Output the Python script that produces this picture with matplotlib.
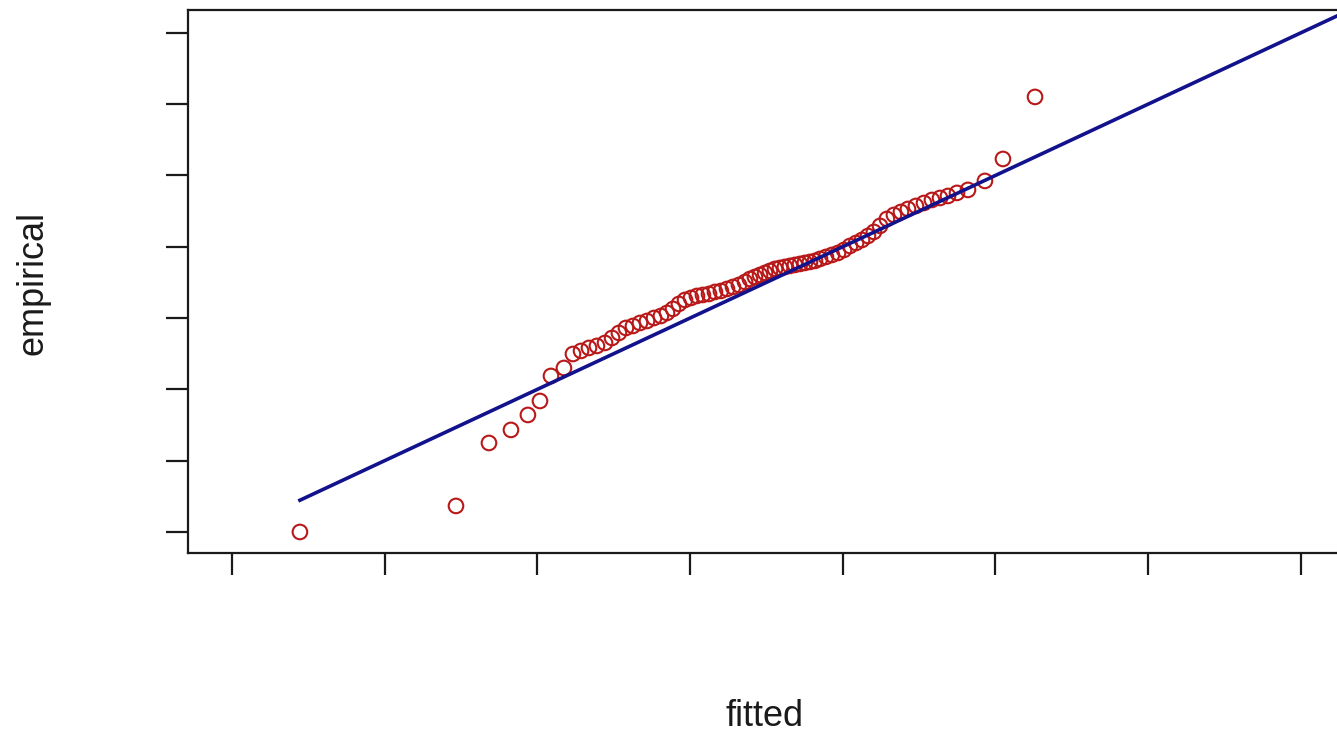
import matplotlib
matplotlib.use("Agg")
import matplotlib.pyplot as plt

plt.rcParams['font.family'] = ['Liberation Sans', 'DejaVu Sans']

# Q-Q comparison: fitted vs empirical quantiles
fitted = [0.445, 1.467, 1.683, 1.827, 1.938, 2.017, 2.089, 2.174, 2.233, 2.286,
          2.338, 2.390, 2.443, 2.489, 2.534, 2.580, 2.626, 2.672, 2.718, 2.764,
          2.809, 2.849, 2.888, 2.927, 2.967, 3.006, 3.045, 3.084, 3.124, 3.163,
          3.202, 3.242, 3.281, 3.320, 3.360, 3.392, 3.425, 3.458, 3.491, 3.523,
          3.556, 3.589, 3.621, 3.654, 3.687, 3.720, 3.752, 3.785, 3.818, 3.851,
          3.890, 3.929, 3.969, 4.008, 4.047, 4.087, 4.126, 4.165, 4.204, 4.244,
          4.289, 4.335, 4.381, 4.427, 4.479, 4.532, 4.584, 4.637, 4.689, 4.748,
          4.820, 4.931, 5.049, 5.259]
empirical = [0.000, 0.365, 1.248, 1.431, 1.641, 1.837, 2.188, 2.300, 2.496, 2.539,
             2.581, 2.609, 2.651, 2.721, 2.791, 2.861, 2.889, 2.931, 2.959, 3.001,
             3.029, 3.072, 3.128, 3.198, 3.254, 3.282, 3.310, 3.324, 3.338, 3.366,
             3.380, 3.408, 3.436, 3.464, 3.506, 3.548, 3.576, 3.604, 3.633, 3.661,
             3.689, 3.703, 3.717, 3.731, 3.745, 3.759, 3.773, 3.787, 3.801, 3.829,
             3.857, 3.885, 3.913, 3.955, 4.011, 4.053, 4.095, 4.151, 4.208, 4.292,
             4.390, 4.446, 4.488, 4.530, 4.572, 4.614, 4.656, 4.684, 4.712, 4.755,
             4.797, 4.923, 5.231, 6.101]

# reference line y = x
line_x = [0.445, 7.4]
line_y = [0.445, 7.4]

x_ticks = [0, 1, 2, 3, 4, 5, 6, 7]
y_ticks = [0, 1, 2, 3, 4, 5, 6, 7]

W, H = 1337, 735
fig = plt.figure(figsize=(W / 100, H / 100), dpi=100)
ax = fig.add_axes([188 / W, (H - 553) / H, (1345 - 188) / W, (553 - 10) / H])

ax.scatter(fitted, empirical, s=10.5 ** 2, facecolors='none',
           edgecolors='#b81818', linewidths=1.5, zorder=2)
ax.plot(line_x, line_y, color='#12128c', lw=2.6, zorder=3)

ax.set_xlim(-0.288, 7.289)
ax.set_ylim(-0.295, 7.32)
ax.set_xticks(x_ticks)
ax.set_yticks(y_ticks)
ax.set_xticklabels([])
ax.set_yticklabels([])
ax.tick_params(length=16, width=1.6, color='#1a1a1a')
for sp in ax.spines.values():
    sp.set_linewidth(1.6)
    sp.set_color('#1a1a1a')

fig.text(765 / W, 1 - 717 / H, "fitted", fontsize=26, ha='center', va='center',
         color='#1a1a1a')
fig.text(33 / W, 1 - 283 / H, "empirical", fontsize=26, ha='center', va='center',
         rotation=90, color='#1a1a1a')

fig.savefig("out.png", dpi=100)
